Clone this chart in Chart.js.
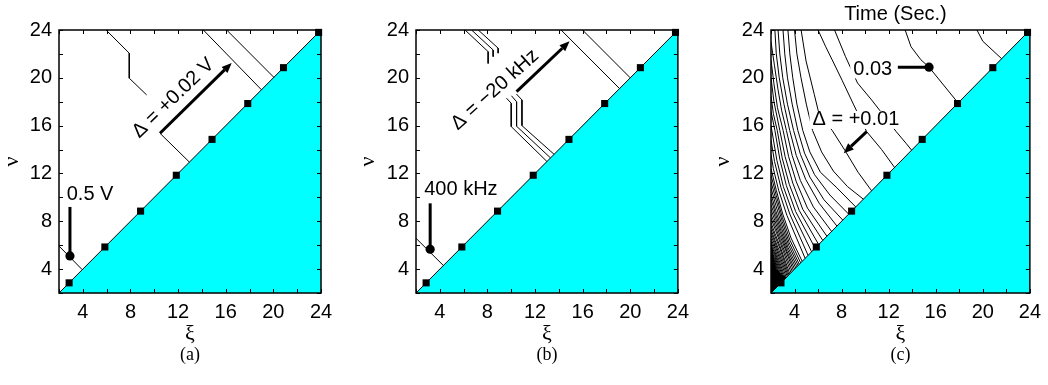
<!DOCTYPE html>
<html>
<head>
<meta charset="utf-8">
<script src="https://cdn.jsdelivr.net/npm/chart.js@4.4.1/dist/chart.umd.min.js"></script>
<style>
  html, body { margin: 0; padding: 0; background: #fff; width: 1048px; height: 385px; overflow: hidden; }
  canvas { position: absolute; top: 0; }
</style>
</head>
<body>
<canvas id="panelA" width="350" height="385" style="left:0px"></canvas>
<canvas id="panelB" width="340" height="385" style="left:356px"></canvas>
<canvas id="panelC" width="337" height="385" style="left:711px"></canvas>
<script>
// ---- axes ----
const AXIS_MIN = 2;
const AXIS_MAX = 24;
const TICK_STEP = 2;
const LABEL_STEP = 4;

// ---- operating points on the diagonal (square markers) ----
const markerXi = [2.85, 5.85, 8.85, 11.85, 14.85, 17.85, 20.85, 23.8];
const markerNu = [2.85, 5.85, 8.85, 11.85, 14.85, 17.85, 20.85, 23.8];

// ---- excluded region boundary nu = xi ----
const boundary = [[2, 2], [24, 24]];

// ---- (a) voltage contours ----
const contoursA = [
  [[2, 5.93], [3.95, 3.95]],
  [[5.95, 24], [7.9, 22.06], [7.9, 19.97], [9.36, 18.57]],
  [[12.95, 12.95], [10.48, 15.36]],
  [[14.12, 24], [19.0, 19.0]],
  [[16.08, 24], [20.04, 20.04]]
];
const dotA = [[2.92, 5.1]];
const pointerA = [[2.92, 9.2], [2.92, 5.1]];
const arrowA = [[10.48, 15.36], [16.5, 21.25]];
const labelsA = ['0.5 V', 'Δ = +0.02 V'];
const labelPosA = [[2.65, 10.2], [11.6, 18.3]];

// ---- (b) frequency contours ----
const contoursB = [
  [[2, 6.58], [4.3, 4.3]],
  [[6.12, 24], [8.06, 22.19], [8.06, 21.2]],
  [[6.67, 24], [8.48, 22.33], [8.48, 21.77]],
  [[7.23, 24], [8.9, 22.48], [8.9, 22.06]],
  [[9.6, 18.3], [10.0, 17.87], [10.0, 15.92], [13.0, 13.0]],
  [[10.02, 18.5], [10.45, 18.0], [10.45, 15.95], [13.3, 13.3]],
  [[10.43, 18.65], [10.9, 18.15], [10.9, 16.0], [13.6, 13.6]],
  [[14.19, 24], [19.1, 19.1]],
  [[15.99, 24], [20.0, 20.0]]
];
const dotB = [[3.19, 5.66]];
const pointerB = [[3.19, 9.5], [3.19, 5.66]];
const arrowB = [[10.45, 18.85], [14.9, 23.05]];
const labelsB = ['400 kHz', 'Δ = −20 kHz'];
const labelPosB = [[2.69, 10.7], [8.64, 19.0]];

// ---- (c) time contours ----
const contoursC = [
  [[19.5, 24], [20.0, 23.06], [21.6, 21.6]],
  [[13.4, 24], [13.9, 22.6], [14.73, 21.52], [15.43, 20.89], [17.9, 17.9]],
  [[7.4, 24], [8.32, 21.8], [9.35, 19.57], [10.55, 18.15], [11.7, 16.7], [12.64, 15.5], [13.47, 14.53], [13.95, 13.95]],
  [[6.0, 24], [6.65, 22.6], [7.2, 21.5], [8.04, 19.8], [9.0, 17.8], [10.13, 15.5], [11.4, 14.0], [12.5, 12.5]],
  [[4.56, 24], [4.98, 21.4], [5.68, 18.6], [6.1, 16.9], [7.2, 15.6], [8.3, 13.9], [9.4, 12.1], [10.55, 10.55]],
  [[4.0, 24], [4.2, 22], [4.55, 20], [5.0, 17.8], [5.53, 15.6], [6.3, 13.8], [7.3, 12.2], [8.5, 10.9], [9.85, 9.85]],
  [[3.44, 24], [3.6, 22], [3.85, 20], [4.2, 17.8], [4.7, 15.6], [5.3, 13.8], [6.2, 12.1], [7.6, 10.8], [9.2, 9.2]],
  [[3.02, 24], [3.17, 22], [3.4, 20], [3.8, 17.8], [4.28, 15.6], [4.85, 13.7], [5.7, 11.9], [7.0, 10.2], [8.6, 8.6]],
  [[2.6, 24], [2.75, 22], [3.0, 20], [3.4, 17.8], [3.92, 15.6], [4.5, 13.6], [5.3, 11.7], [6.5, 9.8], [8.1, 8.1]],
  [[2.33, 24], [2.45, 22], [2.7, 20], [3.1, 17.8], [3.59, 15.6], [4.15, 13.5], [4.95, 11.5], [6.1, 9.5], [7.6, 7.6]],
  [[2, 23.0], [2.3, 21.0], [2.6, 19.0], [2.9, 17.3], [3.31, 15.6], [3.8, 13.5], [4.5, 11.4], [5.6, 9.2], [7.15, 7.15]],
  [[2, 21.5], [2.25, 19.5], [2.55, 17.5], [3.03, 15.6], [3.5, 13.4], [4.15, 11.3], [5.1, 9.1], [6.75, 6.75]],
  [[2, 20.0], [2.25, 18.0], [2.75, 15.6], [3.2, 13.4], [3.85, 11.2], [4.7, 9.0], [6.4, 6.4]],
  [[2, 18.5], [2.2, 17.0], [2.53, 15.6], [2.95, 13.3], [3.55, 11.1], [4.4, 8.9], [6.05, 6.05]],
  [[2, 17.2], [2.33, 15.6], [2.75, 13.2], [3.3, 11.0], [4.1, 8.8], [5.75, 5.75]],
  [[2, 16.0], [2.5, 13.1], [3.05, 10.9], [3.85, 8.7], [5.45, 5.45]],
  [[2, 14.8], [2.3, 13.0], [2.85, 10.8], [3.6, 8.6], [5.15, 5.15]],
  [[2, 13.6], [2.2, 12.4], [2.65, 10.6], [3.35, 8.5], [4.9, 4.9]],
  [[2, 12.4], [2.45, 10.6], [3.0, 8.6], [3.7, 6.6], [4.65, 4.65]],
  [[2, 11.85], [2.45, 10.15], [2.97, 8.3], [3.62, 6.4], [4.52, 4.52]],
  [[2, 11.3], [2.45, 9.7], [2.95, 8.0], [3.55, 6.2], [4.4, 4.4]],
  [[2, 10.8], [2.42, 9.3], [2.92, 7.7], [3.5, 6.0], [4.3, 4.3]],
  [[2, 10.3], [2.4, 8.9], [2.9, 7.4], [3.45, 5.8], [4.2, 4.2]],
  [[2, 9.85], [2.4, 8.55], [2.87, 7.15], [3.4, 5.65], [4.1, 4.1]],
  [[2, 9.4], [2.4, 8.2], [2.85, 6.9], [3.35, 5.5], [4.0, 4.0]],
  [[2, 9.0], [2.4, 7.85], [2.82, 6.65], [3.9, 3.9]],
  [[2, 8.6], [2.4, 7.5], [2.8, 6.4], [3.8, 3.8]],
  [[2, 8.25], [2.4, 7.2], [2.8, 6.15], [3.7, 3.7]],
  [[2, 7.9], [2.35, 6.95], [2.75, 5.95], [3.6, 3.6]],
  [[2, 7.6], [2.35, 6.7], [2.75, 5.75], [3.52, 3.52]],
  [[2, 7.3], [2.35, 6.4], [2.7, 5.55], [3.45, 3.45]],
  [[2, 7.05], [2.35, 6.2], [3.38, 3.38]],
  [[2, 6.8], [2.35, 5.95], [3.3, 3.3]],
  [[2, 6.55], [2.32, 5.75], [3.22, 3.22]],
  [[2, 6.3], [2.3, 5.55], [3.15, 3.15]],
  [[2, 6.05], [2.3, 5.35], [3.08, 3.08]],
  [[2, 5.85], [2.3, 5.15], [3.0, 3.0]],
  [[2, 5.6], [2.3, 4.95], [2.92, 2.92]],
  [[2, 5.4], [2.3, 4.75], [2.85, 2.85]],
  [[2, 5.0], [2.7, 2.7]],
  [[2, 4.6], [2.6, 2.6]],
  [[2, 4.2], [2.5, 2.5]],
  [[2, 3.8], [2.4, 2.4]]
];
// merged dense contours near the corner
const denseCornerC = [[2, 2], [2, 6.3], [2.2, 5.0], [2.45, 4.0], [2.9, 3.5], [3.3, 3.3], [2, 2]];
const dotC = [[15.43, 20.89]];
const pointerC = [[12.78, 20.89], [15.43, 20.89]];
const arrowC = [[10.13, 15.5], [8.18, 13.69]];
const labelsC = ['0.03', 'Δ = +0.01'];
const labelPosC = [[12.3, 20.7], [5.53, 16.48]];

const SANS = "'Liberation Sans', Arial, Helvetica, sans-serif";
const SERIF = "'Liberation Serif', 'Times New Roman', serif";

const toXY = pts => pts.map(([x, y]) => ({ x, y }));

function contourSet(pts) {
  return { data: toXY(pts), borderColor: '#000', borderWidth: 1, pointRadius: 0, fill: false, tension: 0, order: 3 };
}

function buildDatasets(contours, dots, extraFill) {
  const sets = [];
  sets.push({ data: toXY(boundary), fill: 'start', backgroundColor: '#00ffff', borderColor: '#000', borderWidth: 1, pointRadius: 0, order: 6 });
  if (extraFill) {
    sets.push({ data: toXY(extraFill), fill: 'shape', backgroundColor: '#000', borderColor: '#000', borderWidth: 1, pointRadius: 0, order: 4 });
  }
  contours.forEach(c => sets.push(contourSet(c)));
  sets.push({ data: markerXi.map((x, i) => ({ x, y: markerNu[i] })), showLine: false, pointStyle: 'rect',
              pointRadius: 5, pointBackgroundColor: '#000', pointBorderWidth: 0, order: 0, clip: false });
  sets.push({ data: toXY(dots), showLine: false, pointStyle: 'circle', pointRadius: 4.6,
              pointBackgroundColor: '#000', pointBorderWidth: 0, order: 0 });
  return sets;
}

// labels, pointers, arrows, frame with inward ticks and captions
const annotate = {
  id: 'annotate',
  afterDatasetsDraw(chart, _args, o) {
    const { ctx } = chart;
    const sx = chart.scales.x, sy = chart.scales.y;
    const px = ([a, b]) => [sx.getPixelForValue(a), sy.getPixelForValue(b)];
    ctx.save();
    ctx.font = `${o.size}px ${SANS}`;
    o.labels.forEach((t, i) => {
      if (!o.knockout) return;
      const [X, Y] = px(o.labelPos[i]);
      const w = ctx.measureText(t).width;
      const al = o.align[i];
      const x0 = al === 'right' ? X - w : al === 'center' ? X - w / 2 : X;
      ctx.fillStyle = '#fff';
      ctx.fillRect(x0 - 3, Y - o.size * 0.45, w + 6, o.size * 0.9);
    });
    ctx.strokeStyle = '#000';
    ctx.fillStyle = '#000';
    ctx.lineWidth = 3;
    ctx.lineCap = 'butt';
    const [p1, p2] = [px(o.pointer[0]), px(o.pointer[1])];
    ctx.beginPath(); ctx.moveTo(p1[0], p1[1]); ctx.lineTo(p2[0], p2[1]); ctx.stroke();
    const [a1, a2] = [px(o.arrow[0]), px(o.arrow[1])];
    const ang = Math.atan2(a2[1] - a1[1], a2[0] - a1[0]);
    const L = 10, W = 4.2;
    const bx = a2[0] - L * Math.cos(ang), by = a2[1] - L * Math.sin(ang);
    ctx.beginPath(); ctx.moveTo(a1[0], a1[1]); ctx.lineTo(bx, by); ctx.stroke();
    ctx.beginPath();
    ctx.moveTo(a2[0], a2[1]);
    ctx.lineTo(bx + W * Math.sin(ang), by - W * Math.cos(ang));
    ctx.lineTo(bx - W * Math.sin(ang), by + W * Math.cos(ang));
    ctx.closePath(); ctx.fill();
    ctx.textBaseline = 'middle';
    o.labels.forEach((t, i) => {
      const [X, Y] = px(o.labelPos[i]);
      ctx.save();
      ctx.translate(X, Y);
      ctx.rotate((o.angle[i] || 0) * Math.PI / 180);
      ctx.textAlign = o.align[i];
      ctx.fillText(t, 0, 0);
      ctx.restore();
    });
    ctx.restore();
  },
  afterDraw(chart, _args, o) {
    const { ctx, chartArea: a } = chart;
    const sx = chart.scales.x, sy = chart.scales.y;
    ctx.save();
    ctx.strokeStyle = '#000';
    ctx.lineWidth = 1;
    const tl = 4;
    ctx.beginPath();
    sx.ticks.forEach(t => {
      const X = Math.round(sx.getPixelForValue(t.value)) + 0.5;
      ctx.moveTo(X, a.bottom); ctx.lineTo(X, a.bottom - tl);
      ctx.moveTo(X, a.top); ctx.lineTo(X, a.top + tl);
    });
    sy.ticks.forEach(t => {
      const Y = Math.round(sy.getPixelForValue(t.value)) + 0.5;
      ctx.moveTo(a.left, Y); ctx.lineTo(a.left + tl, Y);
      ctx.moveTo(a.right, Y); ctx.lineTo(a.right - tl, Y);
    });
    ctx.stroke();
    ctx.lineWidth = 1.5;
    ctx.strokeRect(a.left, a.top, a.right - a.left, a.bottom - a.top);
    ctx.fillStyle = '#000';
    ctx.textAlign = 'center';
    ctx.textBaseline = 'middle';
    const cx = (a.left + a.right) / 2;
    ctx.font = `18px ${SERIF}`;
    ctx.fillText(o.tag, cx, 355.5);
    if (o.heading) {
      ctx.font = `20px ${SANS}`;
      ctx.fillText(o.heading, cx - 5, 14);
    }
    ctx.restore();
  }
};

function makePanel(id, yWidth, rightPad, contours, dots, extraFill, notes) {
  new Chart(document.getElementById(id), {
    type: 'line',
    data: { datasets: buildDatasets(contours, dots, extraFill) },
    options: {
      responsive: false,
      animation: false,
      events: [],
      layout: { padding: { top: 30, left: 0, right: rightPad, bottom: 0 } },
      plugins: {
        legend: { display: false },
        tooltip: { enabled: false },
        annotate: notes
      },
      scales: {
        x: {
          type: 'linear', min: AXIS_MIN, max: AXIS_MAX,
          grid: { display: false, drawTicks: false },
          border: { display: false },
          ticks: {
            stepSize: TICK_STEP, autoSkip: false, maxRotation: 0, padding: 7, color: '#000',
            font: { family: SANS, size: 20 },
            callback: v => (v % LABEL_STEP === 0 ? String(v) : '')
          },
          title: { display: true, text: 'ξ', color: '#000', font: { family: SERIF, size: 22 }, padding: { top: 0, bottom: 38 } },
          afterFit: s => { s.height = 92; }
        },
        y: {
          type: 'linear', min: AXIS_MIN, max: AXIS_MAX,
          grid: { display: false, drawTicks: false },
          border: { display: false },
          ticks: {
            stepSize: TICK_STEP, autoSkip: false, padding: 7, color: '#000',
            font: { family: SANS, size: 20 },
            callback: v => (v % LABEL_STEP === 0 ? String(v) : '')
          },
          title: { display: true, text: 'ν', color: '#000', font: { family: SERIF, size: 22 }, padding: { top: -1, bottom: 0 } },
          afterFit: s => { s.width = yWidth; }
        }
      }
    },
    plugins: [annotate]
  });
}

makePanel('panelA', 59, 29, contoursA, dotA, null, {
  size: 20, labels: labelsA, labelPos: labelPosA, align: ['left', 'center'], angle: [0, -44],
  pointer: pointerA, arrow: arrowA, knockout: false, tag: '(a)'
});
makePanel('panelB', 60, 17, contoursB, dotB, null, {
  size: 20, labels: labelsB, labelPos: labelPosB, align: ['left', 'center'], angle: [0, -42],
  pointer: pointerB, arrow: arrowB, knockout: false, tag: '(b)'
});
makePanel('panelC', 60, 14, contoursC, dotC, denseCornerC, {
  size: 20, labels: labelsC, labelPos: labelPosC, align: ['right', 'left'], angle: [0, 0],
  pointer: pointerC, arrow: arrowC, knockout: true, tag: '(c)', heading: 'Time (Sec.)'
});
</script>
</body>
</html>
